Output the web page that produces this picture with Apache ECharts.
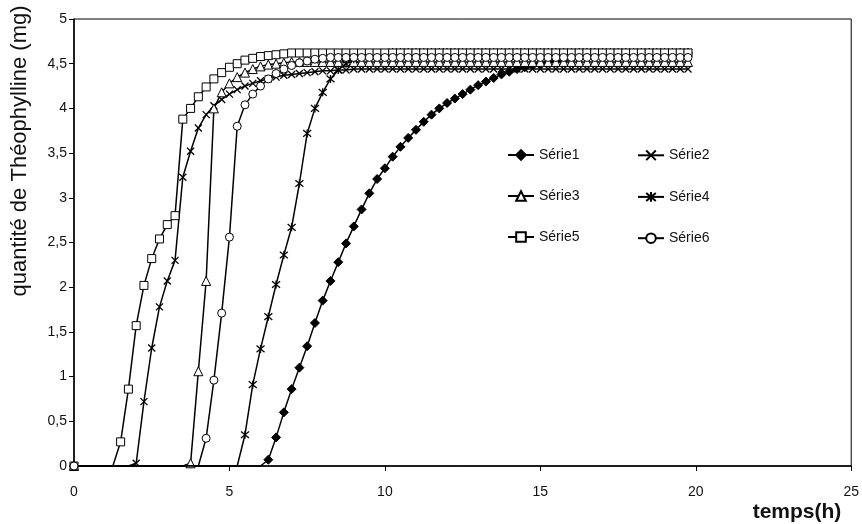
<!DOCTYPE html>
<html>
<head>
<meta charset="utf-8">
<script src="https://cdn.jsdelivr.net/npm/echarts@6/dist/echarts.min.js"></script>
<style>
  html, body { margin: 0; padding: 0; background: #fff; }
  #chart { width: 862px; height: 524px; }
</style>
</head>
<body>
<div id="chart"></div>
<script>
// Temps d'échantillonnage (h)
const temps = [
  0, 0.25, 0.5, 0.75, 1, 1.25, 1.5, 1.75, 2, 2.25,
  2.5, 2.75, 3, 3.25, 3.5, 3.75, 4, 4.25, 4.5, 4.75,
  5, 5.25, 5.5, 5.75, 6, 6.25, 6.5, 6.75, 7, 7.25,
  7.5, 7.75, 8, 8.25, 8.5, 8.75, 9, 9.25, 9.5, 9.75,
  10, 10.25, 10.5, 10.75, 11, 11.25, 11.5, 11.75, 12, 12.25,
  12.5, 12.75, 13, 13.25, 13.5, 13.75, 14, 14.25, 14.5, 14.75,
  15, 15.25, 15.5, 15.75, 16, 16.25, 16.5, 16.75, 17, 17.25,
  17.5, 17.75, 18, 18.25, 18.5, 18.75, 19, 19.25, 19.5, 19.75
];

// Quantité de théophylline libérée (mg)
const serie1 = [
  0, 0, 0, 0, 0, 0, 0, 0, 0, 0,
  0, 0, 0, 0, 0, 0, 0, 0, 0, 0,
  0, 0, 0, 0, 0, 0.07, 0.32, 0.60, 0.86, 1.10,
  1.34, 1.60, 1.85, 2.07, 2.28, 2.49, 2.68, 2.87, 3.05, 3.21,
  3.33, 3.46, 3.57, 3.67, 3.76, 3.85, 3.93, 4.00, 4.06, 4.11,
  4.16, 4.21, 4.26, 4.30, 4.34, 4.38, 4.41, 4.44, 4.46, 4.48,
  4.50, 4.52, 4.53, 4.54, 4.55, 4.56, 4.57, 4.58, 4.58, 4.59,
  4.59, 4.60, 4.60, 4.60, 4.61, 4.61, 4.61, 4.61, 4.62, 4.62
];
const serie2 = [
  0, 0, 0, 0, 0, 0, 0, 0, 0.03, 0.72,
  1.32, 1.78, 2.07, 2.30, 3.23, 3.52, 3.78, 3.93, 4.03, 4.10,
  4.16, 4.21, 4.25, 4.28, 4.31, 4.33, 4.35, 4.37, 4.38, 4.39,
  4.40, 4.41, 4.42, 4.42, 4.43, 4.43, 4.44, 4.44, 4.44, 4.44,
  4.44, 4.44, 4.44, 4.44, 4.44, 4.44, 4.44, 4.44, 4.44, 4.44,
  4.44, 4.44, 4.44, 4.44, 4.44, 4.44, 4.44, 4.44, 4.44, 4.44,
  4.44, 4.44, 4.44, 4.44, 4.44, 4.44, 4.44, 4.44, 4.44, 4.44,
  4.44, 4.44, 4.44, 4.44, 4.44, 4.44, 4.44, 4.44, 4.44, 4.44
];
const serie3 = [
  0, 0, 0, 0, 0, 0, 0, 0, 0, 0,
  0, 0, 0, 0, 0, 0.03, 1.06, 2.07, 4.00, 4.18,
  4.28, 4.35, 4.40, 4.44, 4.47, 4.49, 4.50, 4.51, 4.52, 4.52,
  4.52, 4.52, 4.52, 4.52, 4.52, 4.52, 4.52, 4.52, 4.52, 4.52,
  4.52, 4.52, 4.52, 4.52, 4.52, 4.52, 4.52, 4.52, 4.52, 4.52,
  4.52, 4.52, 4.52, 4.52, 4.52, 4.52, 4.52, 4.52, 4.52, 4.52,
  4.52, 4.52, 4.52, 4.52, 4.52, 4.52, 4.52, 4.52, 4.52, 4.52,
  4.52, 4.52, 4.52, 4.52, 4.52, 4.52, 4.52, 4.52, 4.52, 4.52
];
const serie4 = [
  0, 0, 0, 0, 0, 0, 0, 0, 0, 0,
  0, 0, 0, 0, 0, 0, 0, 0, 0, 0,
  0, 0, 0.35, 0.91, 1.31, 1.67, 2.03, 2.36, 2.67, 3.16,
  3.72, 4.00, 4.18, 4.33, 4.43, 4.50, 4.55, 4.58, 4.60, 4.61,
  4.62, 4.63, 4.63, 4.63, 4.63, 4.63, 4.63, 4.63, 4.63, 4.63,
  4.63, 4.63, 4.63, 4.63, 4.63, 4.63, 4.63, 4.63, 4.63, 4.63,
  4.63, 4.63, 4.63, 4.63, 4.63, 4.63, 4.63, 4.63, 4.63, 4.63,
  4.63, 4.63, 4.63, 4.63, 4.63, 4.63, 4.63, 4.63, 4.63, 4.63
];
const serie5 = [
  0, 0, 0, 0, 0, 0, 0.27, 0.86, 1.57, 2.02,
  2.32, 2.54, 2.70, 2.80, 3.88, 4.00, 4.13, 4.24, 4.33, 4.40,
  4.46, 4.50, 4.54, 4.56, 4.58, 4.59, 4.60, 4.61, 4.62, 4.62,
  4.62, 4.62, 4.62, 4.62, 4.62, 4.62, 4.62, 4.62, 4.62, 4.62,
  4.62, 4.62, 4.62, 4.62, 4.62, 4.62, 4.62, 4.62, 4.62, 4.62,
  4.62, 4.62, 4.62, 4.62, 4.62, 4.62, 4.62, 4.62, 4.62, 4.62,
  4.62, 4.62, 4.62, 4.62, 4.62, 4.62, 4.62, 4.62, 4.62, 4.62,
  4.62, 4.62, 4.62, 4.62, 4.62, 4.62, 4.62, 4.62, 4.62, 4.62
];
const serie6 = [
  0, 0, 0, 0, 0, 0, 0, 0, 0, 0,
  0, 0, 0, 0, 0, 0, 0, 0.31, 0.96, 1.71,
  2.56, 3.80, 4.04, 4.16, 4.25, 4.33, 4.39, 4.44, 4.48, 4.51,
  4.53, 4.55, 4.56, 4.57, 4.57, 4.57, 4.57, 4.57, 4.57, 4.57,
  4.57, 4.57, 4.57, 4.57, 4.57, 4.57, 4.57, 4.57, 4.57, 4.57,
  4.57, 4.57, 4.57, 4.57, 4.57, 4.57, 4.57, 4.57, 4.57, 4.57,
  4.57, 4.57, 4.57, 4.57, 4.57, 4.57, 4.57, 4.57, 4.57, 4.57,
  4.57, 4.57, 4.57, 4.57, 4.57, 4.57, 4.57, 4.57, 4.57, 4.57
];

const nomsSeries = ['Série1', 'Série2', 'Série3', 'Série4', 'Série5', 'Série6'];
const xTicks = { min: 0, max: 25, interval: 5 };
const yTicks = { min: 0, max: 5, interval: 0.5 };

const FONT = '"Liberation Sans", Arial, sans-serif';
const CROSS = 'path://M0,0L10,10M10,0L0,10';
const STAR = 'path://M0,0L10,10M10,0L0,10M5,-1L5,11';

// Marker style of each series
const marqueurs = [
  { symbol: 'diamond', size: 9, fill: '#000', stroke: '#000', width: 1 },
  { symbol: CROSS, size: 7, fill: 'none', stroke: '#000', width: 1.3 },
  { symbol: 'triangle', size: 9, fill: '#fff', stroke: '#000', width: 1 },
  { symbol: STAR, size: 8, fill: 'none', stroke: '#000', width: 1.3 },
  { symbol: 'rect', size: 8, fill: '#fff', stroke: '#000', width: 1 },
  { symbol: 'circle', size: 8, fill: '#fff', stroke: '#000', width: 1 }
];

// Points still at zero before the lag time are drawn as a plain line
function points(values) {
  return values.map(function (v, i) {
    const p = [temps[i], v];
    return (i > 0 && v === 0) ? { value: p, symbol: 'none' } : p;
  });
}

const valeurs = [serie1, serie2, serie3, serie4, serie5, serie6];
const series = valeurs.map(function (vals, k) {
  const m = marqueurs[k];
  return {
    name: nomsSeries[k],
    type: 'line',
    data: points(vals),
    symbol: m.symbol,
    symbolSize: m.size,
    showAllSymbol: true,
    lineStyle: { color: '#000', width: 1.5 },
    itemStyle: { color: m.fill, borderColor: m.stroke, borderWidth: m.width },
    emphasis: { disabled: true },
    animation: false,
    z: 2 + k
  };
});

const legendeCommune = {
  orient: 'vertical', top: 143,
  itemWidth: 26, itemHeight: 12, itemGap: 27,
  textStyle: { color: '#111', fontFamily: FONT, fontSize: 14 },
  selectedMode: false
};

const chart = echarts.init(document.getElementById('chart'), null, { renderer: 'canvas' });
chart.setOption({
  backgroundColor: '#fff',
  animation: false,
  grid: {
    left: 74, right: 9, top: 19, bottom: 58,
    show: true, borderColor: '#000', borderWidth: 1, backgroundColor: 'transparent'
  },
  xAxis: {
    type: 'value',
    min: xTicks.min, max: xTicks.max, interval: xTicks.interval,
    splitLine: { show: false },
    axisLine: { show: true, onZero: false, lineStyle: { color: '#000', width: 1.5 } },
    axisTick: { show: true, inside: false, length: 5, lineStyle: { color: '#000' } },
    axisLabel: { color: '#111', fontFamily: FONT, fontSize: 14, margin: 19 }
  },
  yAxis: {
    type: 'value',
    min: yTicks.min, max: yTicks.max, interval: yTicks.interval,
    splitLine: { show: false },
    axisLine: { show: true, onZero: false, lineStyle: { color: '#000', width: 1.5 } },
    axisTick: { show: true, inside: false, length: 5, lineStyle: { color: '#000' } },
    axisLabel: {
      color: '#111', fontFamily: FONT, fontSize: 14, margin: 7,
      formatter: function (v) { return String(v).replace('.', ','); }
    }
  },
  legend: [
    Object.assign({ data: ['Série1', 'Série3', 'Série5'], left: 502 }, legendeCommune),
    Object.assign({ data: ['Série2', 'Série4', 'Série6'], left: 632 }, legendeCommune)
  ],
  graphic: [
    {
      type: 'text', x: 20, y: 151, rotation: Math.PI / 2,
      style: {
        text: 'quantité de Théophylline (mg)', fill: '#111',
        font: '22px ' + FONT, align: 'center', verticalAlign: 'middle'
      }
    },
    {
      type: 'text', x: 797, y: 512,
      style: {
        text: 'temps(h)', fill: '#111',
        font: 'bold 21px ' + FONT, align: 'center', verticalAlign: 'middle'
      }
    }
  ],
  series: series
});
</script>
</body>
</html>
